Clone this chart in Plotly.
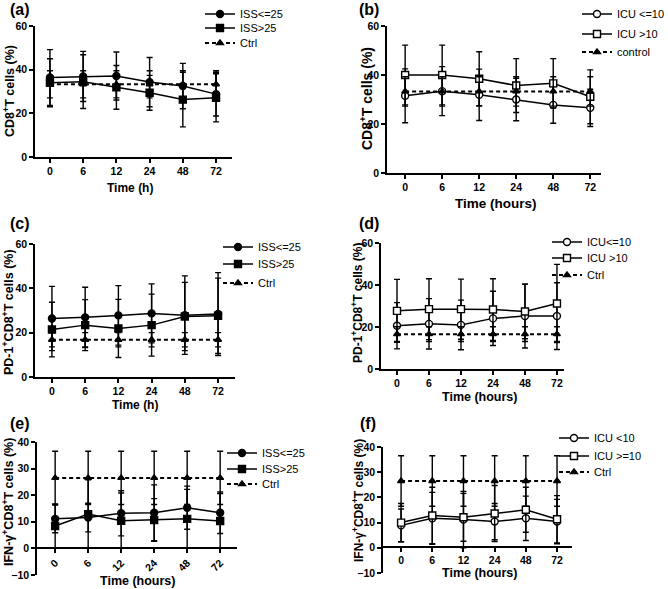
import plotly.graph_objects as go

W, H = 668, 589

# ---------------- data ----------------
times = ["0", "6", "12", "24", "48", "72"]

# (a) CD8+ T cells by ISS
a_iss_le25 = [36.4, 36.9, 37.1, 34.3, 32.5, 28.8]
a_iss_le25_sd = [12.8, 11.5, 11.0, 11.3, 10.4, 10.0]
a_iss_gt25 = [34.0, 34.5, 31.9, 29.4, 26.3, 27.1]
a_iss_gt25_sd = [11.0, 12.3, 10.0, 8.0, 12.5, 11.0]
a_ctrl = [33.3, 33.3, 33.3, 33.3, 33.3, 33.3]
a_ctrl_sd = [6.2, 6.2, 6.2, 6.2, 6.2, 6.2]

# (b) CD8+ T cells by ICU stay
b_icu_le10 = [31.5, 33.4, 31.9, 30.0, 27.8, 26.6]
b_icu_le10_sd = [11.0, 10.0, 10.5, 8.7, 7.5, 7.6]
b_icu_gt10 = [40.0, 40.0, 38.5, 35.7, 36.6, 31.1]
b_icu_gt10_sd = [12.2, 12.2, 11.0, 11.0, 10.1, 11.0]
b_ctrl = [33.3, 33.3, 33.3, 33.3, 33.3, 33.3]
b_ctrl_sd = [6.0, 6.0, 6.0, 6.0, 6.0, 6.0]

# (c) PD-1+CD8+ T cells by ISS
c_iss_le25 = [26.4, 26.9, 27.8, 28.7, 27.9, 28.4]
c_iss_le25_sd = [14.5, 13.6, 13.4, 13.3, 17.7, 18.7]
c_iss_gt25 = [21.4, 23.4, 21.9, 23.4, 27.3, 27.6]
c_iss_gt25_sd = [12.3, 11.5, 13.1, 14.0, 15.4, 17.0]
c_ctrl = [16.8, 16.8, 16.8, 16.8, 16.8, 16.8]
c_ctrl_sd = [3.2, 3.2, 3.2, 3.2, 3.2, 3.2]

# (d) PD-1+CD8+ T cells by ICU stay
d_icu_le10 = [20.6, 21.5, 21.0, 24.1, 25.2, 25.2]
d_icu_le10_sd = [11.0, 12.0, 11.8, 12.9, 15.2, 15.9]
d_icu_gt10 = [27.7, 28.5, 28.5, 28.3, 27.4, 31.2]
d_icu_gt10_sd = [15.0, 14.5, 14.3, 14.7, 13.0, 18.6]
d_ctrl = [16.6, 16.6, 16.6, 16.6, 16.6, 16.6]
d_ctrl_sd = [3.5, 3.5, 3.5, 3.5, 3.5, 3.5]

# (e) IFN-gamma+CD8+ T cells by ISS
e_iss_le25 = [11.1, 11.6, 13.2, 13.4, 15.3, 13.4]
e_iss_le25_sd = [5.2, 5.4, 8.5, 10.5, 8.1, 7.8]
e_iss_gt25 = [8.4, 12.9, 10.4, 10.7, 11.1, 10.3]
e_iss_gt25_sd = [8.3, 12.9, 10.4, 8.0, 11.1, 10.3]
e_ctrl = [26.5, 26.5, 26.5, 26.5, 26.5, 26.5]
e_ctrl_sd = [10.0, 10.0, 10.0, 10.0, 10.0, 10.0]

# (f) IFN-gamma+CD8+ T cells by ICU stay
f_icu_lt10 = [8.9, 11.7, 11.2, 10.4, 11.7, 10.4]
f_icu_lt10_sd = [6.5, 10.3, 11.2, 7.2, 8.8, 8.8]
f_icu_ge10 = [10.0, 12.8, 12.1, 13.6, 15.1, 11.3]
f_icu_ge10_sd = [7.6, 11.2, 9.5, 11.1, 8.9, 9.4]
f_ctrl = [26.5, 26.5, 26.5, 26.5, 26.5, 26.5]
f_ctrl_sd = [10.0, 10.0, 10.0, 10.0, 10.0, 10.0]

# ---------------- helpers ----------------
def PX(x):
    return x / W

def PY(y):
    return 1 - y / H

FONT = "Liberation Sans, Arial, sans-serif"

panels = [
    dict(label="(a)", lab_xy=(20, 9),
         xdom=(35, 232), ydom=(157, 26), yrange=[0, 60], dtick=20, xrange=[-0.45, 5.48],
         ytitle="CD8<sup>+</sup>T cells (%)", ytitle_xy=(9, 91), ytitle_size=12.5,
         xtitle="Time (h)", xtitle_xy=(130, 188), xtitle_size=12,
         legend_x=200, legend_rows=(14, 28, 43), tickangle=0, xzero=None,
         series=[("ISS&lt;=25", a_iss_le25, a_iss_le25_sd, "circle", False),
                 ("ISS>25", a_iss_gt25, a_iss_gt25_sd, "square", False),
                 ("Ctrl", a_ctrl, a_ctrl_sd, "triangle-up", True)]),
    dict(label="(b)", lab_xy=(369, 9),
         xdom=(387, 601), ydom=(173, 26), yrange=[0, 60], dtick=20, xrange=[-0.49, 5.29],
         ytitle="CD8<sup>+</sup>T cells (%)", ytitle_xy=(366, 99), ytitle_size=14,
         xtitle="Time (hours)", xtitle_xy=(496, 204), xtitle_size=13.5,
         legend_x=577, legend_rows=(14, 34, 52), tickangle=0, xzero=None,
         series=[("ICU &lt;=10", b_icu_le10, b_icu_le10_sd, "circle-open", False),
                 ("ICU >10", b_icu_gt10, b_icu_gt10_sd, "square-open", False),
                 ("control", b_ctrl, b_ctrl_sd, "triangle-up", True)]),
    dict(label="(c)", lab_xy=(20, 223),
         xdom=(35, 235), ydom=(377, 244), yrange=[0, 60], dtick=20, xrange=[-0.51, 5.51],
         ytitle="PD-1<sup>+</sup>CD8<sup>+</sup>T cells (%)", ytitle_xy=(8, 312), ytitle_size=12.5,
         xtitle="Time (h)", xtitle_xy=(135, 405), xtitle_size=12,
         legend_x=218, legend_rows=(247, 264, 283), tickangle=0, xzero=None,
         series=[("ISS&lt;=25", c_iss_le25, c_iss_le25_sd, "circle", False),
                 ("ISS>25", c_iss_gt25, c_iss_gt25_sd, "square", False),
                 ("Ctrl", c_ctrl, c_ctrl_sd, "triangle-up", True)]),
    dict(label="(d)", lab_xy=(369, 223),
         xdom=(381, 564), ydom=(369, 243), yrange=[0, 60], dtick=20, xrange=[-0.5, 5.22],
         ytitle="PD-1<sup>+</sup>CD8<sup>+</sup>T cells (%)", ytitle_xy=(357, 303), ytitle_size=12,
         xtitle="Time (hours)", xtitle_xy=(479, 397), xtitle_size=12.5,
         legend_x=547, legend_rows=(242, 258, 275), tickangle=0, xzero=None,
         series=[("ICU&lt;=10", d_icu_le10, d_icu_le10_sd, "circle-open", False),
                 ("ICU >10", d_icu_gt10, d_icu_gt10_sd, "square-open", False),
                 ("Ctrl", d_ctrl, d_ctrl_sd, "triangle-up", True)]),
    dict(label="(e)", lab_xy=(20, 423),
         xdom=(37, 237), ydom=(575, 442), yrange=[-10, 40], dtick=10, xrange=[-0.55, 5.51],
         ytitle="IFN-γ<sup>+</sup>CD8<sup>+</sup>T cells (%)", ytitle_xy=(8, 502), ytitle_size=12.5,
         xtitle="Time (hours)", xtitle_xy=(137, 581), xtitle_size=12.5,
         legend_x=222, legend_rows=(453, 469, 484), tickangle=-45, xzero=548,
         series=[("ISS&lt;=25", e_iss_le25, e_iss_le25_sd, "circle", False),
                 ("ISS>25", e_iss_gt25, e_iss_gt25_sd, "square", False),
                 ("Ctrl", e_ctrl, e_ctrl_sd, "triangle-up", True)]),
    dict(label="(f)", lab_xy=(368, 423),
         xdom=(383, 572), ydom=(573, 447), yrange=[-10, 40], dtick=10, xrange=[-0.58, 5.48],
         ytitle="IFN-γ<sup>+</sup>CD8<sup>+</sup>T cells (%)", ytitle_xy=(358, 500), ytitle_size=12,
         xtitle="Time (hours)", xtitle_xy=(479, 573), xtitle_size=12.5,
         legend_x=554, legend_rows=(438, 456, 472), tickangle=0, xzero=547,
         series=[("ICU &lt;10", f_icu_lt10, f_icu_lt10_sd, "circle-open", False),
                 ("ICU >=10", f_icu_ge10, f_icu_ge10_sd, "square-open", False),
                 ("Ctrl", f_ctrl, f_ctrl_sd, "triangle-up", True)]),
]

fig = go.Figure()
layout = dict(
    width=W, height=H, margin=dict(l=0, r=0, t=0, b=0, autoexpand=False),
    paper_bgcolor="white", plot_bgcolor="white",
    font=dict(family=FONT, color="black"),
    showlegend=True,
)
annotations = []
leg_count = 0

for i, p in enumerate(panels):
    n = "" if i == 0 else str(i + 1)
    xa, ya = "x" + n, "y" + n
    for k, (name, vals, sd, sym, dashed) in enumerate(p["series"]):
        leg_count += 1
        leg = "legend" if leg_count == 1 else "legend%d" % leg_count
        is_open = sym.endswith("-open")
        base_sym = sym.replace("-open", "")
        fig.add_trace(go.Scatter(
            x=times, y=vals, name=name, xaxis=xa, yaxis=ya, legend=leg,
            mode="lines+markers", cliponaxis=False,
            line=dict(color="black", width=2 if dashed else 1.5, dash="4px,3px" if dashed else "solid"),
            marker=dict(symbol=base_sym, size=7 if base_sym != "triangle-up" else 6,
                        color="white" if is_open else "black",
                        line=dict(color="black", width=1.4)),
            error_y=dict(type="data", array=sd, visible=True, color="black", thickness=1.4, width=3),
        ))
        layout[leg] = dict(x=PX(p["legend_x"]), y=PY(p["legend_rows"][k]), xanchor="left", yanchor="middle",
                           bgcolor="rgba(0,0,0,0)", font=dict(family=FONT, size=11, color="black"),
                           itemwidth=30, borderwidth=0)
    axis_common = dict(showline=True, linecolor="black", linewidth=1.5, ticks="outside",
                       ticklen=4, tickwidth=1.5, tickcolor="black", showgrid=False, zeroline=False,
                       tickfont=dict(family=FONT, size=10.5, color="black", weight="bold"))
    xax = dict(axis_common, domain=[PX(p["xdom"][0]), PX(p["xdom"][1])], type="category",
               range=p["xrange"], tickangle=p["tickangle"], anchor=ya)
    if p["xzero"] is not None:
        xax.update(anchor="free", position=PY(p["xzero"]))
    yax = dict(axis_common, domain=[PY(p["ydom"][0]), PY(p["ydom"][1])], range=p["yrange"],
               dtick=p["dtick"], tick0=0, anchor=xa)
    layout["xaxis" + n] = xax
    layout["yaxis" + n] = yax
    annotations.append(dict(text="<b>" + p["label"] + "</b>", x=PX(p["lab_xy"][0]), y=PY(p["lab_xy"][1]),
                            xref="paper", yref="paper", showarrow=False, xanchor="center", yanchor="middle",
                            font=dict(family=FONT, size=16, color="black")))
    annotations.append(dict(text="<b>" + p["ytitle"] + "</b>", x=PX(p["ytitle_xy"][0]), y=PY(p["ytitle_xy"][1]),
                            xref="paper", yref="paper", showarrow=False, textangle=-90,
                            xanchor="center", yanchor="middle",
                            font=dict(family=FONT, size=p["ytitle_size"], color="black")))
    annotations.append(dict(text="<b>" + p["xtitle"] + "</b>", x=PX(p["xtitle_xy"][0]), y=PY(p["xtitle_xy"][1]),
                            xref="paper", yref="paper", showarrow=False, xanchor="center", yanchor="middle",
                            font=dict(family=FONT, size=p["xtitle_size"], color="black")))

# significance marker in (b)
annotations.append(dict(text="*", x="48", y=55, xref="x2", yref="y2", showarrow=False,
                        xanchor="center", yanchor="middle", font=dict(family=FONT, size=15, color="black")))

layout["annotations"] = annotations
fig.update_layout(**layout)
fig.write_html("out.html", config={"displayModeBar": False},
               post_script="document.body.style.margin='0';document.body.style.overflow='hidden';")
